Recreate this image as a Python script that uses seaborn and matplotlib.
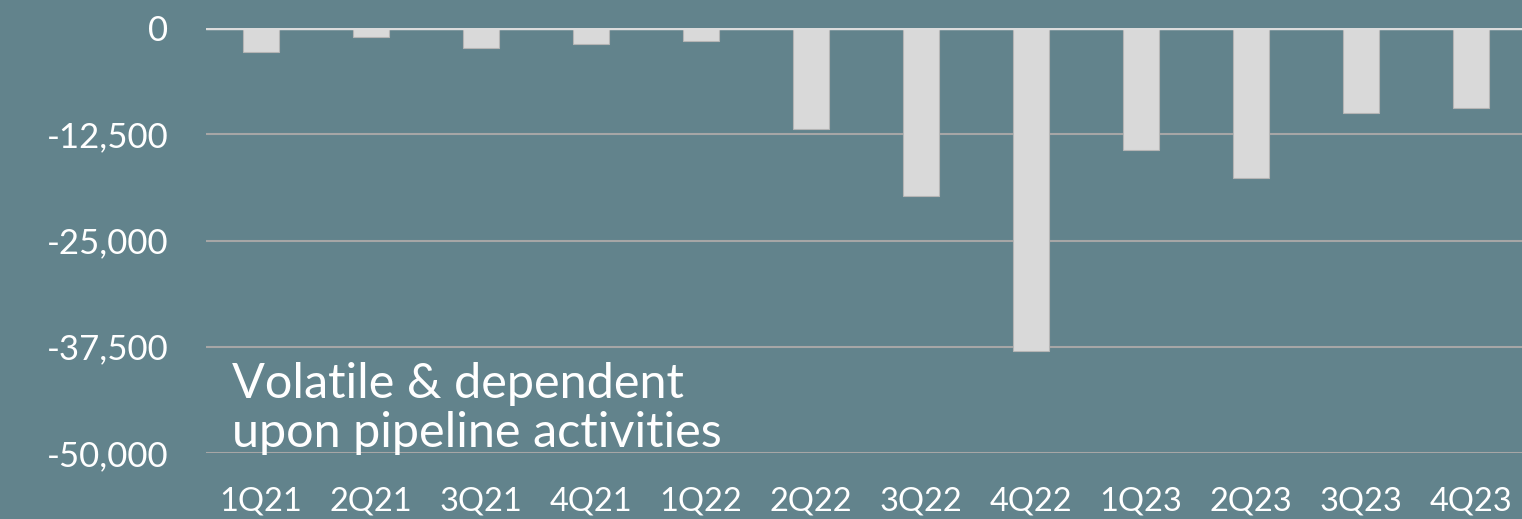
import matplotlib
matplotlib.use("Agg")
import matplotlib.pyplot as plt
import matplotlib.ticker as mticker
import pandas as pd
import seaborn as sns

# Données
quarters = ["1Q21", "2Q21", "3Q21", "4Q21", "1Q22", "2Q22",
            "3Q22", "4Q22", "1Q23", "2Q23", "3Q23", "4Q23"]
values = [-2820, -1060, -2400, -1930, -1575, -11840,
          -19800, -37990, -14350, -17600, -9960, -9410]
y_ticks = [0, -12500, -25000, -37500, -50000]
note = "Volatile & dependent\nupon pipeline activities"

BG = "#62838c"
BAR = "#d9d9d9"
GRID = "#a6a6a6"

sns.set_theme(style="white")
plt.rcParams["font.family"] = ["Lato", "DejaVu Sans"]

df = pd.DataFrame({"quarter": quarters, "value": values})

fig = plt.figure(figsize=(15.22, 5.19), dpi=100, facecolor=BG)
ax = fig.add_axes([206 / 1522, 1 - 453 / 519, 1320 / 1522, 425 / 519])
ax.set_facecolor(BG)

sns.barplot(data=df, x="quarter", y="value", color=BAR, saturation=1,
            width=0.32, edgecolor="#b5b5b5", linewidth=0.8, ax=ax, zorder=3)

ax.set_ylim(-50000, 0)
ax.set_xlim(-0.5, 11.5)
ax.set_yticks(y_ticks)
ax.yaxis.set_major_formatter(mticker.FuncFormatter(lambda v, p: f"{v:,.0f}"))
ax.grid(axis="y", color=GRID, linewidth=1.5, zorder=0)
ax.axhline(0, color="#dcdcdc", linewidth=2.5, zorder=4)
for s in ax.spines.values():
    s.set_visible(False)

ax.tick_params(axis="y", length=0, pad=27, labelsize=25, labelcolor="white")
ax.tick_params(axis="x", length=0, pad=24, labelsize=23.5, labelcolor="white")
ax.set_xlabel("")
ax.set_ylabel("")

ax.text(0.02, -49300, note, transform=ax.get_yaxis_transform(),
        color="white", fontsize=35, va="baseline", ha="left",
        linespacing=1.14)

fig.savefig("out.png", dpi=100, facecolor=BG)
